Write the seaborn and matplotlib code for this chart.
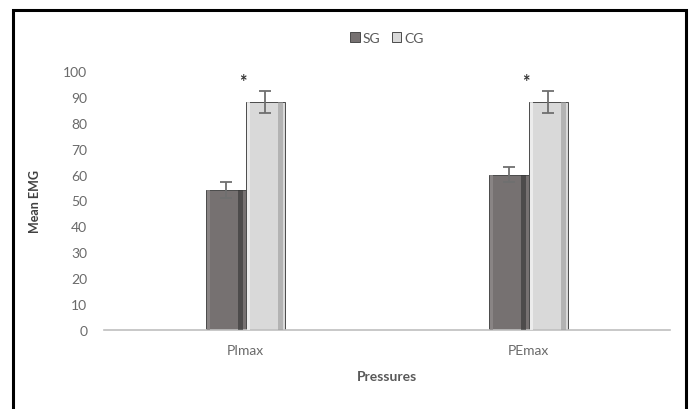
import matplotlib
matplotlib.use("Agg")
import matplotlib.pyplot as plt
import seaborn as sns
import pandas as pd
from matplotlib.patches import Rectangle

categories = ["PImax", "PEmax"]
groups = ["SG", "CG"]
sg_values = [54, 60]
cg_values = [88, 88]
sg_err = [3, 3]
cg_err = [4.3, 4.3]
star_label = "*"

sns.set_theme(style="white")
plt.rcParams['font.family'] = ['Lato', 'DejaVu Sans']

df = pd.DataFrame({
    "Pressures": categories * 2,
    "Group": ["SG"] * len(categories) + ["CG"] * len(categories),
    "Value": sg_values + cg_values,
})
errs = {"SG": sg_err, "CG": cg_err}

fig = plt.figure(figsize=(6.9, 4.1), dpi=100)
ax = fig.add_axes([104 / 690, (410 - 331) / 410, (670 - 104) / 690, (331 - 72) / 410])

palette = {"SG": "#767171", "CG": "#d9d9d9"}
sns.barplot(data=df, x="Pressures", y="Value", hue="Group", order=categories,
            hue_order=groups, palette=palette, width=0.28, errorbar=None,
            ax=ax, edgecolor="#4a4a4a", linewidth=0.7, saturation=1)

for container, g in zip(ax.containers, groups):
    for patch, e in zip(container.patches, errs[g]):
        xc = patch.get_x() + patch.get_width() / 2
        h = patch.get_height()
        ax.errorbar(xc, h, yerr=e, color="#6f6f6f", capsize=4, elinewidth=1.3,
                    capthick=1.3, fmt="none", zorder=5)
        # bevel highlights
        w = patch.get_width()
        ax.add_patch(Rectangle((patch.get_x() + w * 0.82, 0), w * 0.12, h,
                               facecolor="#333333" if g == "SG" else "#9a9a9a",
                               edgecolor="none", alpha=0.6, zorder=3))
        ax.add_patch(Rectangle((patch.get_x() + w * 0.03, 0), w * 0.08, h,
                               facecolor="#8e8a8a" if g == "SG" else "#f2f2f2",
                               edgecolor="none", alpha=0.8, zorder=3))

for i, cat in enumerate(categories):
    top = max(cg_values[i] + cg_err[i], sg_values[i] + sg_err[i])
    ax.text(i - 0.01, top + 3.5, star_label, ha="center", va="center", fontsize=13,
            fontweight="bold", color="#333333")

ax.set_ylim(0, 100)
ax.set_xlim(-0.5, 1.5)
ax.set_yticks(range(0, 101, 10))
ax.tick_params(axis="both", length=0, labelsize=10, colors="#6a6a6a")
ax.tick_params(axis="x", pad=10)
ax.tick_params(axis="y", pad=12)
ax.set_ylabel("Mean EMG", fontsize=9, fontweight="bold", color="#404040", labelpad=16)
ax.set_xlabel("Pressures", fontsize=10, fontweight="bold", color="#595959", labelpad=10)
for s in ["top", "right", "left"]:
    ax.spines[s].set_visible(False)
ax.spines["bottom"].set_color("#bfbfbf")
ax.spines["bottom"].set_linewidth(1.2)

leg = ax.legend(loc="upper center", bbox_to_anchor=(0.5, 1.2), ncol=2, frameon=False,
                fontsize=10, handlelength=0.7, handleheight=0.7, handletextpad=0.2,
                columnspacing=0.8, labelcolor="#595959")

fig.patches.append(Rectangle((12.5 / 690, -0.1), (686 - 12.5) / 690, 1.1 - 10.5 / 410,
                             transform=fig.transFigure, fill=False,
                             edgecolor="black", linewidth=2.2))

fig.savefig("out.png", dpi=100)
